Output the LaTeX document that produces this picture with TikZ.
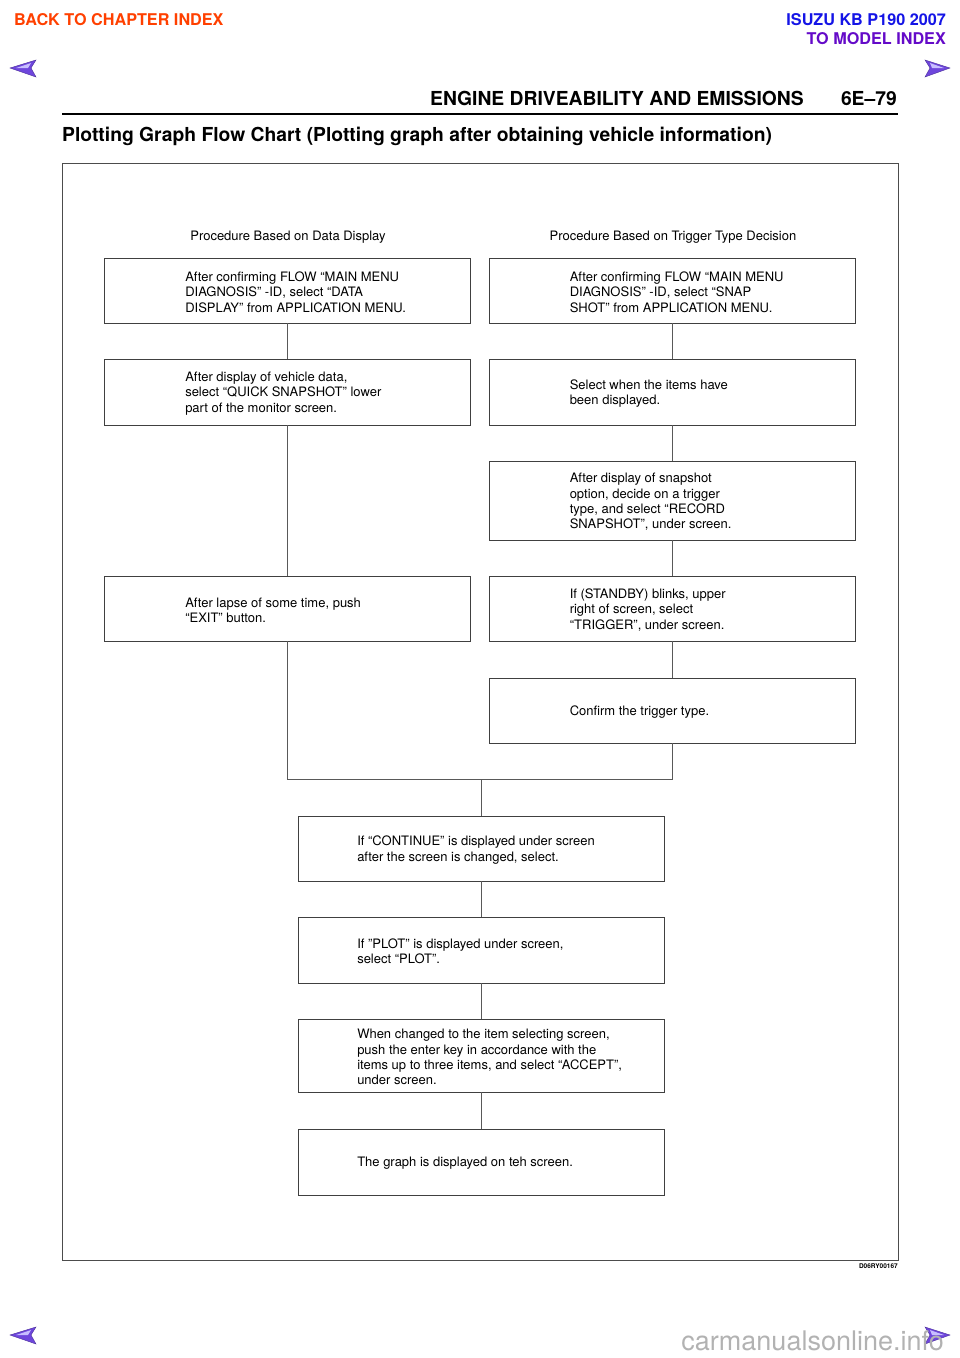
\documentclass[tikz,border=0pt]{standalone}
\usepackage{fontspec}
\setmainfont{TeX Gyre Heros}
\usepackage{tikz}
\usetikzlibrary{positioning,calc}

\definecolor{backred}{RGB}{255,64,0}
\definecolor{modelblue}{RGB}{20,20,230}
\definecolor{modelpurple}{RGB}{100,10,200}
\definecolor{navviolet}{RGB}{110,70,220}
\definecolor{navlight}{RGB}{200,190,255}

\begin{document}
\begin{tikzpicture}[x=1pt,y=-1pt,
    stepbox/.style={draw=black!75,line width=0.9pt,minimum width=366pt,minimum height=65pt,inner sep=0pt},
    steptext/.style={font=\fontsize{13}{15.3}\selectfont,align=left,inner sep=0pt,anchor=west},
    link/.style={draw=black!65,line width=0.9pt},
    navarrow/.style={fill=navviolet,draw=navviolet!70!black,line width=0.4pt}]
  \useasboundingbox (0,0) rectangle (960,1358);

  % header
  \node[font=\fontsize{16.2}{18}\selectfont\bfseries,text=backred,anchor=west,inner sep=0pt] (back) at (14,20) {BACK TO CHAPTER INDEX};
  \node[font=\fontsize{16.2}{18}\selectfont\bfseries,text=modelblue,anchor=east,inner sep=0pt] (isuzu) at (946,20) {ISUZU KB P190 2007};
  \node[font=\fontsize{16.2}{18}\selectfont\bfseries,text=modelpurple,anchor=east,inner sep=0pt] (model) at (946,39) {TO MODEL INDEX};
  \foreach \y in {68,1335}{
    \filldraw[navarrow] (10,\y) -- (36,\y-8) -- (31,\y) -- (36,\y+9) -- cycle;
    \fill[navlight] (16,\y) -- (31,\y-5) -- (28,\y) -- cycle;
    \filldraw[navarrow] (950,\y) -- (925,\y-8) -- (930,\y) -- (925,\y+9) -- cycle;
    \fill[navlight] (944,\y) -- (930,\y-5) -- (932,\y) -- cycle;
  }
  \node[font=\fontsize{19.3}{21}\selectfont\bfseries,anchor=east,inner sep=0pt] (chap) at (804,98.5) {ENGINE DRIVEABILITY AND EMISSIONS};
  \node[font=\fontsize{19.3}{21}\selectfont\bfseries,anchor=east,inner sep=0pt] (page) at (897,98.5) {6E--79};
  \draw[line width=1.8pt] (62,114) -- (898,114);
  \node[font=\fontsize{19.3}{21}\selectfont\bfseries,anchor=west,inner sep=0pt] (title) at (62,136) {Plotting Graph Flow Chart (Plotting graph after obtaining vehicle information)};

  % frame
  \draw[draw=black!70,line width=0.9pt] (62,163) rectangle (898,1260);
  \node[font=\fontsize{6.5}{7}\selectfont\bfseries,anchor=east,inner sep=0pt] (code) at (898,1266) {D06RY00167};

  % column headings
  \node[font=\fontsize{13}{15}\selectfont,inner sep=0pt] (headl) at (288,237) {Procedure Based on Data Display};
  \node[font=\fontsize{13}{15}\selectfont,inner sep=0pt] (headr) at (673,237) {Procedure Based on Trigger Type Decision};

  % left column
  \node[stepbox] (l1) at (287.5,290.5) {};
  \node[steptext] (l1t) at ([xshift=81,yshift=-1.5]l1.west) {After confirming FLOW “MAIN MENU\\DIAGNOSIS" -ID, select “DATA\\DISPLAY" from APPLICATION MENU.};
  \node[stepbox,minimum height=66pt] (l2) at (287.5,392) {};
  \node[steptext] (l2t) at ([xshift=81,yshift=-1.5]l2.west) {After display of vehicle data,\\select “QUICK SNAPSHOT" lower\\part of the monitor screen.};
  \node[stepbox] (l3) at (287.5,608.5) {};
  \node[steptext] (l3t) at ([xshift=81,yshift=-1.5]l3.west) {After lapse of some time, push\\“EXIT" button.};

  % right column
  \node[stepbox] (r1) at (672,290.5) {};
  \node[steptext] (r1t) at ([xshift=81,yshift=-1.5]r1.west) {After confirming FLOW “MAIN MENU\\DIAGNOSIS" -ID, select “SNAP\\SHOT" from APPLICATION MENU.};
  \node[stepbox,minimum height=66pt] (r2) at (672,392) {};
  \node[steptext] (r2t) at ([xshift=81,yshift=-1.5]r2.west) {Select when the items have\\been displayed.};
  \node[stepbox,minimum height=79pt] (r3) at (672,500.5) {};
  \node[steptext] (r3t) at ([xshift=81,yshift=-1.5]r3.west) {After display of snapshot\\option, decide on a trigger\\type, and select “RECORD\\SNAPSHOT”, under screen.};
  \node[stepbox] (r4) at (672,608.5) {};
  \node[steptext] (r4t) at ([xshift=81,yshift=-1.5]r4.west) {If (STANDBY) blinks, upper\\right of screen, select\\“TRIGGER", under screen.};
  \node[stepbox] (r5) at (672,710.5) {};
  \node[steptext] (r5t) at ([xshift=81,yshift=-1.5]r5.west) {Confirm the trigger type.};

  % common part
  \coordinate (merge) at (481.5,779);
  \node[stepbox] (b1) at (481.5,848.5) {};
  \node[steptext] (b1t) at ([xshift=59,yshift=-1.5]b1.west) {If “CONTINUE" is displayed under screen\\after the screen is changed, select.};
  \node[stepbox,minimum height=66pt] (b2) at (481.5,950) {};
  \node[steptext] (b2t) at ([xshift=59,yshift=-1.5]b2.west) {If "PLOT" is displayed under screen,\\select “PLOT".};
  \node[stepbox,minimum height=73pt] (b3) at (481.5,1055.5) {};
  \node[steptext] (b3t) at ([xshift=59,yshift=-1.5]b3.west) {When changed to the item selecting screen,\\push the enter key in accordance with the\\items up to three items, and select “ACCEPT",\\under screen.};
  \node[stepbox,minimum height=66pt] (b4) at (481.5,1162) {};
  \node[steptext] (b4t) at ([xshift=59,yshift=-1.5]b4.west) {The graph is displayed on teh screen.};

  % connectors
  \draw[link] (l1) -- (l2);
  \draw[link] (l2) -- (l3);
  \draw[link] (r1) -- (r2);
  \draw[link] (r2) -- (r3);
  \draw[link] (r3) -- (r4);
  \draw[link] (r4) -- (r5);
  \draw[link] (l3.south) -- (l3.south |- merge) -- (r5.south |- merge) -- (r5.south);
  \draw[link] (merge) -- (b1);
  \draw[link] (b1) -- (b2);
  \draw[link] (b2) -- (b3);
  \draw[link] (b3) -- (b4);

  % watermark
  \node[font=\fontsize{27}{28}\selectfont,text=black!30,anchor=east,inner sep=0pt] (mark) at (944,1341) {carmanualsonline.info};
\end{tikzpicture}
\end{document}
